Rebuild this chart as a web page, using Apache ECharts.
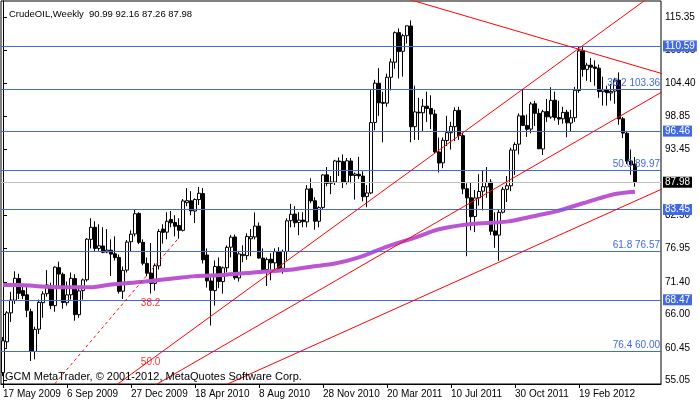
<!DOCTYPE html>
<html><head><meta charset="utf-8">
<script src="https://cdn.jsdelivr.net/npm/echarts@6/dist/echarts.min.js"></script>
<style>html,body{margin:0;padding:0;background:#fff}#c{width:700px;height:402px}</style>
</head><body><div id="c"></div>
<script>
const symbolName = 'CrudeOIL,Weekly';
const copyright = 'GCM MetaTrader, \u00A9 2001-2012, MetaQuotes Software Corp.';
// weekly bars, first bar = week of 17 May 2009
const opens = [
56.4,61.5,66.3,68.4,72.0,70.0,69.3,66.5,59.9,63.6,
68.0,69.5,70.5,67.5,73.8,72.7,68.0,69.3,72.0,66.0,
70.0,71.8,78.5,80.5,77.0,77.4,76.4,76.7,76.1,75.5,
69.9,73.4,78.1,79.4,82.8,78.0,74.5,72.9,71.2,74.1,
80.2,79.7,81.8,81.3,80.8,80.0,84.6,84.9,83.2,85.1,
86.1,75.9,71.6,70.0,74.0,71.5,73.8,77.2,78.9,72.1,
75.8,75.8,78.6,78.9,80.7,75.4,73.5,75.2,74.6,76.5,
73.7,76.5,81.6,82.7,81.3,81.7,81.4,86.9,84.9,81.5,
83.8,89.2,87.8,88.0,91.5,91.4,88.0,91.5,89.1,89.3,
89.0,85.6,86.2,97.9,104.4,101.2,101.1,105.4,107.9,112.8,
109.7,112.3,113.9,97.2,99.6,99.5,100.6,100.2,99.3,93.0,
91.2,94.9,96.2,97.2,99.9,95.7,86.9,85.4,82.3,85.4,
86.5,87.2,88.0,79.9,79.2,83.0,86.8,87.4,93.3,94.3,
99.0,97.4,96.8,101.0,99.4,93.5,99.7,98.8,101.6,98.7,
98.5,99.6,97.8,98.7,103.2,109.8,106.7,107.4,107.1,106.9,
103.0,103.3,102.8,103.1,104.9,98.5,96.1,91.5,90.99];
const highs = [
62.3,66.6,69.8,73.2,72.8,71.0,71.0,67.0,64.0,68.5,
69.9,73.4,71.3,74.0,74.8,73.0,71.5,73.0,72.7,70.5,
72.0,78.7,82.0,81.5,81.0,80.5,80.2,78.5,79.0,76.0,
74.0,78.4,80.0,83.5,83.0,78.5,75.5,77.9,74.5,80.2,
81.0,83.0,83.2,82.5,82.0,85.2,87.0,86.5,85.3,87.2,
87.0,77.0,72.2,75.0,75.5,74.0,77.5,79.2,79.3,76.5,
77.5,79.5,80.2,82.97,81.3,77.0,75.5,76.2,77.0,77.2,
76.8,82.0,84.4,84.0,83.0,83.0,87.5,88.63,85.5,84.0,
89.3,90.5,89.0,91.7,92.1,92.6,92.0,92.0,89.6,92.2,
89.8,87.5,103.41,104.97,106.9,103.0,106.0,108.5,113.0,113.5,
112.6,113.9,114.83,104.0,102.0,101.8,103.0,102.4,100.0,95.4,
95.4,99.0,98.0,100.4,100.5,96.2,87.8,88.0,86.7,89.3,
90.0,90.5,88.5,83.0,83.4,87.2,89.0,93.7,94.6,99.4,
103.37,99.2,101.3,101.5,100.2,100.0,101.8,103.74,103.0,101.5,
100.5,100.0,100.0,103.8,110.55,110.5,107.8,108.6,108.2,107.5,
105.5,104.0,104.3,105.3,106.2,98.8,96.5,93.4,92.16];
const lows = [
55.8,60.5,64.8,67.8,68.6,68.6,65.6,58.3,58.6,62.8,
65.5,69.0,66.9,66.5,70.5,67.0,67.5,68.5,65.0,65.5,
68.5,71.5,77.0,76.5,76.6,76.2,76.2,72.4,75.0,69.5,
68.6,73.0,76.5,79.0,77.7,74.2,72.4,69.5,70.0,73.5,
77.8,78.5,80.5,79.0,78.6,79.8,84.0,82.5,81.2,84.2,
74.5,70.5,64.2,67.5,70.4,69.5,73.0,75.5,71.8,71.5,
74.7,75.1,75.7,78.5,75.3,73.0,70.76,71.7,73.5,73.3,
72.8,75.0,80.5,80.5,79.2,80.5,80.5,84.5,80.1,80.5,
83.5,87.3,86.0,87.5,89.0,87.0,87.6,87.8,85.1,88.5,
84.8,83.85,86.0,96.6,99.0,94.6,100.5,103.2,106.8,105.2,
105.5,111.0,94.6,95.0,95.0,96.5,98.0,96.8,92.8,89.6,
90.3,94.0,93.4,94.8,95.0,86.0,75.7,80.0,79.7,84.1,
83.3,85.4,79.2,77.1,74.95,82.8,84.7,86.5,89.2,92.6,
97.3,95.5,96.1,97.3,93.5,92.5,98.0,98.5,98.2,97.5,
97.7,95.44,96.4,98.0,102.8,105.5,104.8,104.6,104.0,102.0,
100.7,100.68,101.5,101.0,97.5,95.3,91.0,89.2,87.26];
const closes = [
61.67,66.31,68.44,72.04,69.55,69.16,66.73,59.89,63.56,68.05,
69.45,70.93,67.51,73.89,72.74,68.02,69.29,72.04,66.02,69.95,
71.77,78.53,80.50,77.00,77.43,76.35,76.72,76.05,75.47,69.87,
73.36,78.05,79.36,82.75,78.00,74.54,72.89,71.19,74.13,79.81,
79.66,81.50,81.24,80.68,80.00,84.87,84.92,83.24,85.12,86.15,
75.11,71.61,70.04,74.00,71.51,73.78,77.18,78.86,72.14,76.09,
76.01,78.98,78.95,80.70,75.39,73.46,75.17,74.60,76.45,73.66,
76.49,81.58,82.66,81.25,81.69,81.43,86.85,84.88,81.51,83.76,
89.19,87.79,88.02,91.51,91.38,88.03,91.54,89.11,89.34,89.03,
85.58,86.20,97.88,104.42,101.16,101.07,105.40,107.94,112.79,109.66,
112.29,113.93,97.18,99.65,99.49,100.59,100.22,99.29,93.01,91.16,
94.94,96.20,97.24,99.87,95.70,86.88,85.38,82.26,85.37,86.45,
87.24,87.96,79.85,79.20,82.98,86.80,87.40,93.32,94.26,98.99,
97.41,96.77,100.96,99.41,93.53,99.68,98.83,101.56,98.70,98.46,
99.56,97.84,98.67,103.24,109.77,106.70,107.40,107.06,106.87,103.02,
103.31,102.83,103.05,104.93,98.49,96.13,91.48,90.86,87.98];
const totalSlots = 165;
const dateTickLabels = ['17 May 2009','6 Sep 2009','27 Dec 2009','18 Apr 2010','8 Aug 2010','28 Nov 2010','20 Mar 2011','10 Jul 2011','30 Oct 2011','19 Feb 2012'];
const dateTickStep = 16;
const priceTicks = [115.35,109.95,104.40,98.85,93.45,87.90,82.50,76.95,71.40,66.00,60.45,55.05];
const levelLines = [110.59, 96.46, 83.45, 68.47];
const fibLevels = ['38.2','50.0','61.8','76.4'];
const fibPrices = [103.36, 89.97, 76.57, 60.00];
const maIdx = [0,4,8,14,22,25,27,35,43,48,55,62,71,77,83,89,96,103,109,117,126,134,138,145,149,153,158];
const maVal = [70.93,70.93,70.75,70.55,70.55,70.8,71.0,71.48,72.04,72.4,72.6,72.97,73.4,73.97,74.5,75.5,77.3,78.8,80.17,81.05,81.44,82.55,83.1,84.49,85.3,86.03,86.4];
// trend lines: [barIndex, price] endpoints
const lineDashed = [[12, 53.8],[44, 78.8]];
const lineA = [[27, 53.69],[162, 118.9]];
const lineB = [[38, 54.3],[166, 103.45]];
const lineC = [[56, 54.45],[166, 87.23]];
const lineD = [[100, 118.61],[166, 105.76]];
const fanText = ['38.2','50.0'];
const fanIdx = [36.9, 36.9];
const fanPrice = [67.9, 58.15];

const FONT = '"Liberation Sans", Arial, sans-serif';
const n = closes.length;
const last = n - 1;
const candles = closes.map((c, i) => [opens[i], c, lows[i], highs[i]]);
const cats = Array.from({length: totalSlots}, (_, i) => String(i));
const tickFn = (idx) => idx % dateTickStep === 0 && idx / dateTickStep < dateTickLabels.length;
const lastClose = closes[last];

const chart = echarts.init(document.getElementById('c'), null, {renderer: 'canvas'});
const redLine = (pts, dashed) => ({
  type: 'line', xAxisIndex: 1, data: pts, symbol: 'none', clip: true, z: 5, silent: true,
  lineStyle: {color: '#ff0000', width: 1, type: dashed ? [3, 3] : 'solid'}
});
chart.setOption({
  animation: false,
  backgroundColor: '#ffffff',
  title: {
    text: symbolName + '  ' + [opens[last], highs[last], lows[last], closes[last]].map(v => v.toFixed(2)).join(' '),
    left: 4, top: 4,
    textStyle: {fontSize: 9.5, fontWeight: 'normal', color: '#000', fontFamily: FONT}
  },
  graphic: [{type: 'text', left: 5, top: 371, z: 100,
    style: {text: copyright, fill: '#000', font: '11px ' + FONT}}],
  grid: {left: 1, right: 39, top: 1, bottom: 18, show: true, borderColor: '#000', borderWidth: 1, backgroundColor: '#fff'},
  xAxis: [{
    type: 'category', data: cats, boundaryGap: true,
    axisLine: {show: true, lineStyle: {color: '#000'}},
    axisTick: {show: true, interval: tickFn, alignWithLabel: true, length: 4, lineStyle: {color: '#000'}},
    axisLabel: {interval: tickFn, formatter: (v, idx) => dateTickLabels[idx / dateTickStep] || '',
      align: 'left', fontSize: 10, color: '#000', margin: 5, fontFamily: FONT},
    splitLine: {show: false}
  }, {
    type: 'value', min: -0.5, max: totalSlots - 0.5, show: false
  }],
  yAxis: {
    type: 'value', position: 'right', min: 54.5, max: 118.05, scale: true,
    axisLine: {show: true, lineStyle: {color: '#000'}},
    axisTick: {show: true, customValues: priceTicks, length: 4, lineStyle: {color: '#000'}},
    axisLabel: {customValues: priceTicks, formatter: v => v.toFixed(2), fontSize: 10, color: '#000', margin: 4, fontFamily: FONT},
    splitLine: {show: false}
  },
  series: [{
    type: 'candlestick', data: candles, barWidth: 3, z: 2,
    itemStyle: {color: '#ffffff', color0: '#000000', borderColor: '#000000', borderColor0: '#000000', borderWidth: 1},
    markLine: {
      silent: true, symbol: ['none', 'none'], animation: false,
      data: [
        ...levelLines.map(v => ({yAxis: v,
          lineStyle: {color: '#4169E1', width: 1, type: 'solid'},
          label: {show: true, position: 'end', distance: 2, formatter: v.toFixed(2), color: '#fff',
            backgroundColor: '#4169E1', padding: [1, 2, 0, 2], fontSize: 10, fontFamily: FONT}})),
        ...fibPrices.map((v, k) => ({yAxis: v,
          lineStyle: {color: '#4169E1', width: 1, type: 'solid'},
          label: {show: true, position: 'insideEndTop', distance: 1, formatter: fibLevels[k] + ' ' + v.toFixed(2),
            color: '#4169E1', fontSize: 10, fontFamily: FONT}})),
        {yAxis: lastClose, lineStyle: {color: '#c0c0c0', width: 1, type: 'solid'},
          label: {show: true, position: 'end', distance: 2, formatter: lastClose.toFixed(2), color: '#fff',
            backgroundColor: '#000', padding: [1, 2, 0, 2], fontSize: 10, fontFamily: FONT}}
      ]
    }
  }, {
    type: 'line', xAxisIndex: 1, data: maIdx.map((x, k) => [x, maVal[k]]), symbol: 'none', z: 4,
    smooth: 0.3, lineStyle: {color: '#BA55D3', width: 4}
  },
  redLine(lineDashed, true), redLine(lineA), redLine(lineB), redLine(lineC), redLine(lineD),
  {
    type: 'scatter', xAxisIndex: 1, data: fanIdx.map((x, k) => [x, fanPrice[k], fanText[k]]), symbolSize: 0, z: 6,
    label: {show: true, position: 'inside', formatter: p => p.data[2], color: '#ff0000', fontSize: 10, fontFamily: FONT}
  }]
});
</script></body></html>
